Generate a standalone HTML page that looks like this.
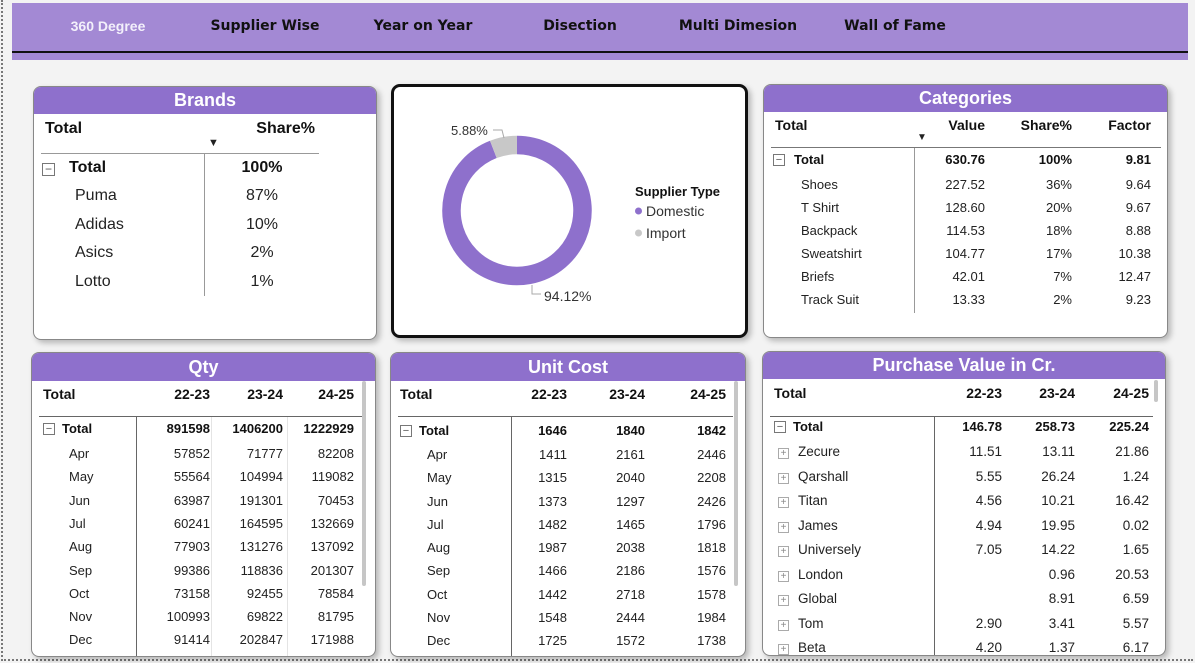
<!DOCTYPE html>
<html><head><meta charset="utf-8">
<style>
*{box-sizing:border-box;margin:0;padding:0}
body{width:1195px;height:663px;background:#f3f3f3;font-family:"Liberation Sans",sans-serif;position:relative;overflow:hidden;color:#222}
.abs{position:absolute}
.border-dash{position:absolute;left:1px;top:0;width:1192px;height:661px;border-left:2px dotted #777;border-bottom:2px dotted #777}
.nav{left:12px;top:3px;width:1176px;height:57px;background:#a389d4}
.navline{left:12px;top:51px;width:1176px;height:2px;background:#111}
.nav-item{position:absolute;top:18px;font-family:"Comic Sans MS","DejaVu Sans",cursive;font-size:14px;font-weight:bold;color:#111;transform:translateX(-50%);white-space:nowrap}
.card{position:absolute;background:#fff;border:1px solid #888;border-radius:8px;box-shadow:3px 3px 6px rgba(0,0,0,.25);overflow:hidden}
.hdr{position:absolute;left:0;top:0;width:100%;background:#8e70cc;color:#fff;font-weight:bold;font-size:18px;text-align:center}
.t{position:absolute;white-space:nowrap;font-size:13px;color:#222}
.b{font-weight:bold;color:#111}
.vline{position:absolute;width:1px;background:#555}
.hline{position:absolute;height:1px;background:#555}
.box{position:absolute;width:11px;height:11px;border:1px solid #777;font-size:10px;line-height:9px;text-align:center;color:#555}
</style></head><body>
<div class="border-dash"></div>
<div class="abs nav"></div>
<div class="abs navline"></div>
<div class="nav-item" style="left:108px;color:#f3f0fb;font-family:'Liberation Sans',sans-serif">360 Degree</div>
<div class="nav-item" style="left:265px">Supplier Wise</div>
<div class="nav-item" style="left:423px">Year on Year</div>
<div class="nav-item" style="left:580px">Disection</div>
<div class="nav-item" style="left:738px">Multi Dimesion</div>
<div class="nav-item" style="left:895px">Wall of Fame</div>

<!-- Brands -->
<div class="card" style="left:33px;top:86px;width:344px;height:254px">
 <div class="hdr" style="height:27px;line-height:27px">Brands</div>
 <div class="t b" style="left:11px;top:33px;font-size:16px">Total</div>
 <div class="t b" style="left:200px;top:33px;width:81px;font-size:16px"><span style="float:right">Share%</span></div>
 <div class="t" style="left:174px;top:50px;font-size:11px">▼</div>
 <div class="hline" style="left:7px;top:66px;width:278px;background:#999"></div>
 <div class="vline" style="left:170px;top:67px;height:142px;background:#999"></div>
 <div class="box" style="left:8px;top:76px;width:13px;height:13px;line-height:11px;font-size:12px">−</div>
 <div class="t b" style="left:35px;top:72px;font-size:16px">Total</div>
 <div class="t b" style="left:190px;top:72px;width:76px;text-align:center;font-size:16px">100%</div>
 <div id="brandrows"></div>
</div>

<!-- Donut -->
<div class="card" style="left:391px;top:84px;width:357px;height:254px;border:3px solid #111;border-radius:9px">
 <svg width="351" height="248" style="position:absolute;left:0;top:0" id="donut"></svg>
</div>

<!-- Categories -->
<div class="card" style="left:763px;top:84px;width:405px;height:254px">
 <div class="hdr" style="height:27px;line-height:27px">Categories</div>
 <div id="catbody"></div>
</div>

<!-- Qty -->
<div class="card" style="left:31px;top:352px;width:345px;height:305px">
 <div class="hdr" style="height:28px;line-height:28px">Qty</div>
 <div id="qtybody"></div>
</div>
<!-- Unit cost -->
<div class="card" style="left:390px;top:352px;width:356px;height:305px">
 <div class="hdr" style="height:28px;line-height:28px">Unit Cost</div>
 <div id="ucbody"></div>
</div>
<!-- Purchase -->
<div class="card" style="left:762px;top:351px;width:404px;height:305px">
 <div class="hdr" style="height:27px;line-height:27px">Purchase Value in Cr.</div>
 <div id="pvbody"></div>
</div>

<script>
const brandNames=["Puma","Adidas","Asics","Lotto"];
const brandShares=["87%","10%","2%","1%"];
const donutLabels=["Domestic","Import"];
const donutValues=[94.12,5.88];
const catNames=["Shoes","T Shirt","Backpack","Sweatshirt","Briefs","Track Suit"];
const catValues=["227.52","128.60","114.53","104.77","42.01","13.33"];
const catShares=["36%","20%","18%","17%","7%","2%"];
const catFactors=["9.64","9.67","8.88","10.38","12.47","9.23"];
const months=["Apr","May","Jun","Jul","Aug","Sep","Oct","Nov","Dec"];
const qty2223=["57852","55564","63987","60241","77903","99386","73158","100993","91414"];
const qty2324=["71777","104994","191301","164595","131276","118836","92455","69822","202847"];
const qty2425=["82208","119082","70453","132669","137092","201307","78584","81795","171988"];
const qtyTotals=["891598","1406200","1222929"];
const uc2223=["1411","1315","1373","1482","1987","1466","1442","1548","1725"];
const uc2324=["2161","2040","1297","1465","2038","2186","2718","2444","1572"];
const uc2425=["2446","2208","2426","1796","1818","1576","1578","1984","1738"];
const ucTotals=["1646","1840","1842"];
const suppliers=["Zecure","Qarshall","Titan","James","Universely","London","Global","Tom","Beta"];
const pv2223=["11.51","5.55","4.56","4.94","7.05","","","2.90","4.20"];
const pv2324=["13.11","26.24","10.21","19.95","14.22","0.96","8.91","3.41","1.37"];
const pv2425=["21.86","1.24","16.42","0.02","1.65","20.53","6.59","5.57","6.17"];
const pvTotals=["146.78","258.73","225.24"];
const years=["22-23","23-24","24-25"];

function txt(parent,s,x,y,opts){
  const d=document.createElement('div');
  d.className='t'+(opts&&opts.cls?' '+opts.cls:'');
  d.textContent=s;
  d.style.left=x+'px';d.style.top=y+'px';
  if(opts&&opts.fs)d.style.fontSize=opts.fs+'px';
  if(opts&&opts.right!==undefined){d.style.left=(opts.right-100)+'px';d.style.width='100px';d.style.textAlign='right';}
  if(opts&&opts.center!==undefined){d.style.left=(opts.center-50)+'px';d.style.width='100px';d.style.textAlign='center';}
  parent.appendChild(d);return d;
}
function el(parent,cls,css){const d=document.createElement('div');d.className=cls;d.style.cssText=css;parent.appendChild(d);return d;}

// Brands
const br=document.getElementById('brandrows');
brandNames.forEach((n,i)=>{
  const y=100+i*28.5;
  const a=txt(br,n,41,y,{fs:16});
  
  
  const b=txt(br,brandShares[i],0,y,{fs:16,center:228});
  
  
});

// Donut
const svg=document.getElementById('donut');const NS='http://www.w3.org/2000/svg';
const cx=123,cy=123.5,R=65.5,sw=18.5,colors=["#8e70cc","#c8c8c8"];
const total=donutValues.reduce((a,b)=>a+b,0);
let start=0;
donutValues.forEach((v,i)=>{
  const a0=start/total*2*Math.PI, a1=(start+v)/total*2*Math.PI;
  const p=document.createElementNS(NS,'path');
  const x0=cx+R*Math.sin(a0),y0=cy-R*Math.cos(a0),x1=cx+R*Math.sin(a1),y1=cy-R*Math.cos(a1);
  p.setAttribute('d',`M${x0} ${y0} A${R} ${R} 0 ${(a1-a0)>Math.PI?1:0} 1 ${x1} ${y1}`);
  p.setAttribute('stroke',colors[i]);p.setAttribute('stroke-width',sw);p.setAttribute('fill','none');
  
  
  svg.appendChild(p);
  start+=v;
});
function st(x,y,s,o){const t=document.createElementNS(NS,'text');t.setAttribute('x',x);t.setAttribute('y',y);t.textContent=s;t.setAttribute('font-family','Liberation Sans, sans-serif');t.setAttribute('font-size',(o&&o.fs)||13);t.setAttribute('fill',(o&&o.fill)||'#333');if(o&&o.anchor)t.setAttribute('text-anchor',o.anchor);if(o&&o.bold)t.setAttribute('font-weight','bold');svg.appendChild(t);return t;}
const l1=st(57,48,donutValues[1].toFixed(2)+'%');


const ln1=document.createElementNS(NS,'polyline');ln1.setAttribute('points','99,43 108,43 110,51');ln1.setAttribute('stroke','#aaa');ln1.setAttribute('fill','none');svg.appendChild(ln1);
const l2=st(150,214,donutValues[0].toFixed(2)+'%',{fs:14});


const ln2=document.createElementNS(NS,'polyline');ln2.setAttribute('points','138,198 138,207 147,207');ln2.setAttribute('stroke','#aaa');ln2.setAttribute('fill','none');svg.appendChild(ln2);
const lt=st(241,109,'Supplier Type',{bold:true,fs:13,fill:'#111'});


donutLabels.forEach((n,i)=>{
  const c=document.createElementNS(NS,'circle');c.setAttribute('cx',244.5);c.setAttribute('cy',124+i*22);c.setAttribute('r',3.5);c.setAttribute('fill',colors[i]);svg.appendChild(c);
  const t=st(252,129+i*22,n,{fs:14});
  
  
});

// Categories
const cb=document.getElementById('catbody');
txt(cb,'Total',11,32,{cls:'b',fs:14});
txt(cb,'Value',0,32,{cls:'b',fs:14,right:221});
txt(cb,'Share%',0,32,{cls:'b',fs:14,right:308});
txt(cb,'Factor',0,32,{cls:'b',fs:14,right:387});
txt(cb,'▼',153,47,{fs:10});
el(cb,'hline','left:7px;top:62px;width:390px;background:#777');
el(cb,'vline','left:150px;top:63px;height:165px;background:#999');
const cbx=el(cb,'box','left:9px;top:69px;width:12px;height:12px;line-height:10px;font-size:11px');cbx.textContent='−';
txt(cb,'Total',30,67,{cls:'b'});
txt(cb,'630.76',0,67,{cls:'b',right:221});
txt(cb,'100%',0,67,{cls:'b',right:308});
txt(cb,'9.81',0,67,{cls:'b',right:387});
catNames.forEach((n,i)=>{
  const y=92+i*23;
  const a=txt(cb,n,37,y);
  
  
  txt(cb,catValues[i],0,y,{right:221});
  txt(cb,catShares[i],0,y,{right:308});
  txt(cb,catFactors[i],0,y,{right:387});
});

// Matrix builder
function matrix(id,cfg,labels,c1,c2,c3,tots,prefix){
  const b=document.getElementById(id);
  txt(b,'Total',cfg.lx,33,{cls:'b',fs:14});
  years.forEach((y,i)=>txt(b,y,0,33,{cls:'b',fs:14,right:cfg.cols[i]}));
  el(b,'hline',`left:7px;top:${cfg.line}px;width:${cfg.lw}px;background:#666`);
  el(b,'vline',`left:${cfg.sep}px;top:${cfg.line+1}px;height:260px;background:#666`);
  if(cfg.seps)cfg.seps.forEach(s=>el(b,'vline',`left:${s}px;top:${cfg.line+1}px;height:260px;background:#e4e4e4`));
  el(b,'abs',`left:${cfg.sbx}px;top:28px;width:4px;height:${cfg.sbh}px;background:#c6c6c6;border-radius:2px`);
  const bx0=el(b,'box',`left:${cfg.lx}px;top:${cfg.ty+2}px;width:12px;height:12px;line-height:10px;font-size:11px`);bx0.textContent='−';
  txt(b,'Total',cfg.lx+19,cfg.ty,{cls:'b',fs:cfg.tfs});
  tots.forEach((v,i)=>txt(b,v,0,cfg.ty,{cls:'b',fs:cfg.tfs,right:cfg.cols[i]}));
  labels.forEach((n,i)=>{
    const y=cfg.r0+i*cfg.dy;
    if(cfg.plus){const bx=el(b,'box',`left:${cfg.lx+4}px;top:${y+4}px;width:11px;height:11px;line-height:9px;border-color:#aaa;color:#888`);bx.textContent='+';}
    const a=txt(b,n,cfg.nx,y,{fs:cfg.fs});
    
    
    [c1,c2,c3].forEach((arr,j)=>txt(b,arr[i],0,y,{right:cfg.cols[j],fs:cfg.fs}));
  });
}
matrix('qtybody',{lx:11,nx:37,cols:[178,251,322],line:63,lw:325,sep:104,seps:[179,255],sbx:330,sbh:205,ty:68,tfs:13,r0:93,dy:23.3,fs:13},months,qty2223,qty2324,qty2425,qtyTotals,'qty');
matrix('ucbody',{lx:9,nx:36,cols:[176,254,335],line:63,lw:335,sep:120,sbx:343,sbh:205,ty:70,tfs:13,r0:94,dy:23.25,fs:13},months,uc2223,uc2324,uc2425,ucTotals,'unit-cost');
matrix('pvbody',{lx:11,nx:35,cols:[239,312,386],line:64,lw:383,sep:171,sbx:391,sbh:22,ty:67,tfs:13,r0:92,dy:24.5,fs:13.5,plus:true},suppliers,pv2223,pv2324,pv2425,pvTotals,'purchase');
</script>
</body></html>
